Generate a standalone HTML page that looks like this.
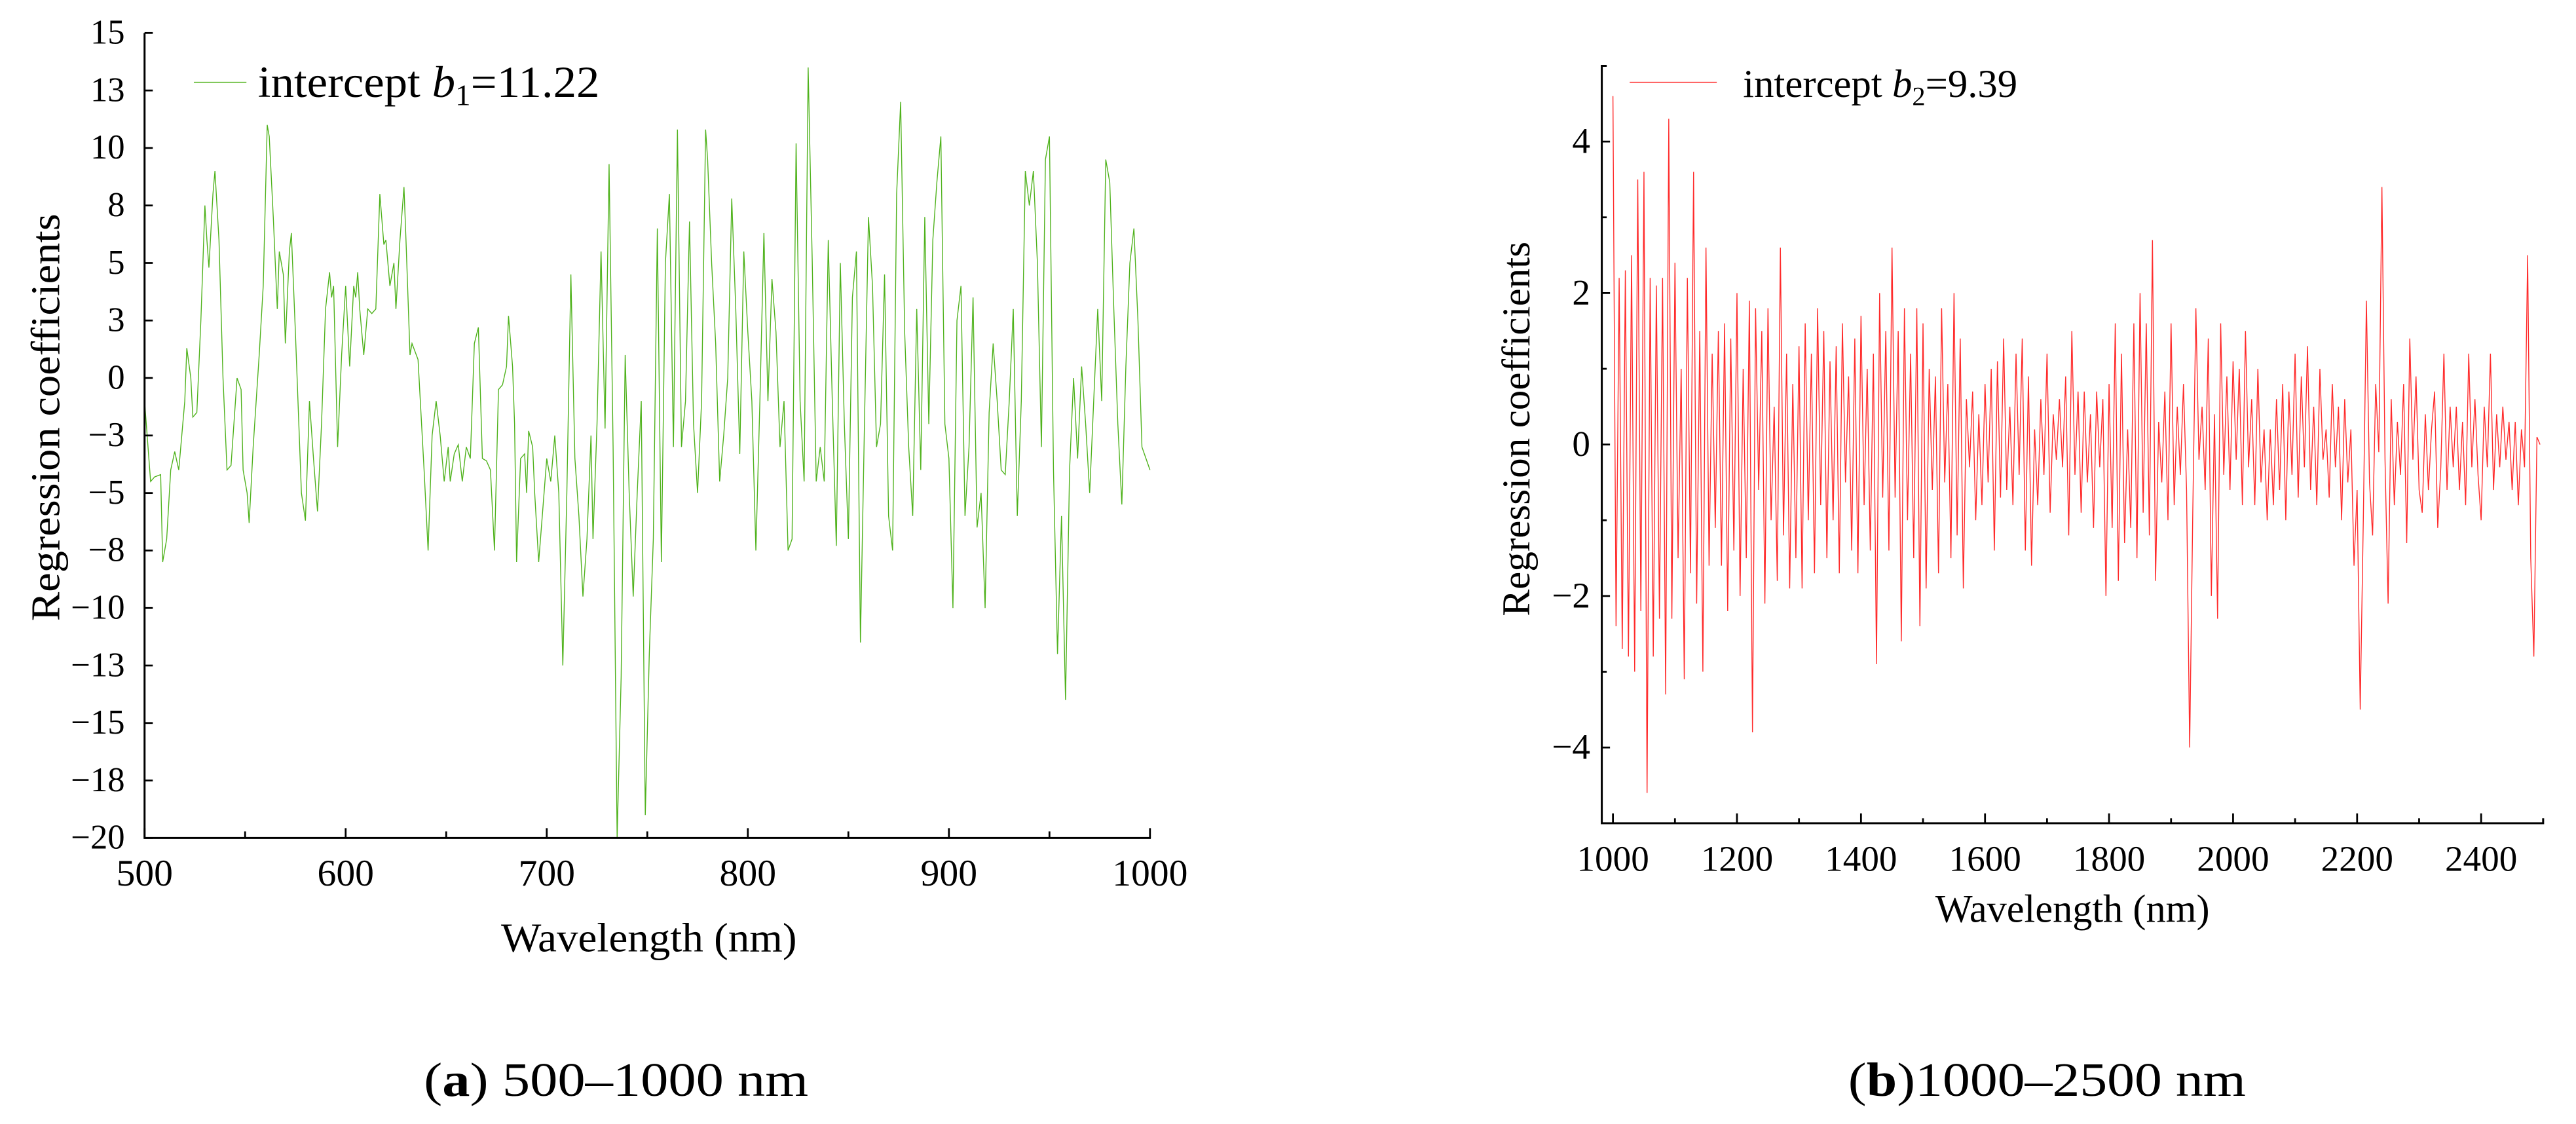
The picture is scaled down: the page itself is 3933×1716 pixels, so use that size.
<!DOCTYPE html>
<html><head><meta charset="utf-8"><style>
html,body{margin:0;padding:0;background:#fff;}
svg{display:block;}
svg text{font-family:"Liberation Serif","Times New Roman",serif;fill:#000;}
</style></head><body>
<svg id="fig" width="3933" height="1716" viewBox="0 0 1568 684" xmlns="http://www.w3.org/2000/svg" font-family="'Liberation Serif', 'Times New Roman', serif">
<g id="chartA"></g>
<g id="chartB"></g>
<text x="258" y="667" font-size="29" textLength="234" lengthAdjust="spacingAndGlyphs">(<tspan font-weight="bold">a</tspan>) 500–1000 nm</text>
<text x="1125" y="667" font-size="29" textLength="242" lengthAdjust="spacingAndGlyphs">(<tspan font-weight="bold">b</tspan>)1000–2500 nm</text>
</svg>
<script>
const NS="http://www.w3.org/2000/svg";
// ---- Chart A data ----
const aWave=[500,503,505,508,509,511,513,515,517,520,521,523,524,526,528,530,531,532,534,535,537,539,541,543,546,548,549,551,552,554,557,559,561,562,564,566,567,569,570,572,573,575,578,580,582,584,586,588,590,592,593,594,596,598,600,602,604,605,606,607,609,611,613,615,617,619,620,622,624,625,627,629,630,632,633,636,639,641,643,645,647,649,651,652,654,656,658,660,662,664,666,668,670,672,674,676,678,680,681,683,684,685,687,689,690,691,693,694,696,
700,702,704,706,708,710,712,714,716,718,720,722,723,725,727,729,731,733,735,737,739,741,743,745,747,749,751,753,755,757,759,761,763,765,767,769,771,773,775,777,779,780,782,784,786,788,790,792,794,796,798,800,802,804,806,808,810,812,814,816,818,820,822,824,826,828,830,832,834,836,838,840,842,844,846,848,850,852,854,856,858,860,862,864,866,868,870,872,874,876,878,880,882,884,886,888,890,892,894,896,898,900,902,904,906,908,910,912,914,916,918,920,922,924,926,928,930,932,934,936,938,940,942,944,946,948,950,952,954,956,958,960,962,964,966,968,970,972,974,976,978,980,982,984,986,988,990,992,994,996,998,1000];
const aCoef=[-1,-4.5,-4.3,-4.2,-8,-7,-4,-3.2,-4,-1,1.3,0,-1.7,-1.5,2.5,7.5,6,4.8,8,9,6,0,-4,-3.8,0,-0.5,-4,-5,-6.3,-3,1,4,11,10.5,7,3,5.5,4.5,1.5,5.5,6.3,2,-5,-6.2,-1,-3.5,-5.8,-2,3,4.6,3.5,4,-3,1,4,0.5,4,3.5,4.6,3,1,3,2.8,3,8,5.8,6,4,5,3,6,8.3,6,1,1.5,0.8,-4,-7.5,-2.5,-1,-2.5,-4.5,-3,-4.5,-3.3,-2.9,-4.5,-3,-3.5,1.5,2.2,-3.5,-3.6,-4,-7.5,-0.5,-0.3,0.5,2.7,0.5,-2,-8,-3.5,-3.3,-5,-2.3,-3,-5,-8,
-3.5,-4.5,-2.5,-5,-12.5,-5,4.5,-3.5,-6,-9.5,-7,-2.5,-7,-2,5.5,-2.2,9.3,-3,-20,-13,1,-5,-9.5,-5,-1,-19,-12,-7,6.5,-8,5,8,-3,10.8,-3,-1,6.8,-2,-5,-1,10.8,9.5,5,1.5,-4.5,-2.5,0,7.8,3,-3.3,5.5,2,-1,-7.5,-1,6.3,-1,4.3,2,-3,-1,-7.5,-7,10.2,-1,-4.5,13.5,5.2,-4.5,-3,-4.5,6,-1,-7.3,5,-2,-7,3.5,5.5,-11.5,-2,7,4,-3,-2,4.5,-6,-7.5,8,12,2,-3,-6,3,-4,7,-2,6,8.5,10.5,-2,-3.5,-10,2.5,4,-6,-3,3.5,-6.5,-5,-10,-1.5,1.5,-1,-4,-4.2,-1,3,-6,-1,9,7.5,9,5,-3,9.5,10.5,-4,-12,-6,-14,-4,0,-3.5,0.5,-2,-5,-1,3,-1,9.5,8.5,3,-2,-5.5,0.5,5,6.5,2.5,-3,-3.5,-4];
const aYTickVals=[-20,-17.5,-15,-12.5,-10,-7.5,-5,-2.5,0,2.5,5,7.5,10,12.5,15];
const aYTickLabels=["−20","−18","−15","−13","−10","−8","−5","−3","0","3","5","8","10","13","15"];
const aXTicks=[500,600,700,800,900,1000];
// ---- Chart B data ----
const bStart=1000, bStep=5;
const bCoef=[4.6,-2.4,2.2,-2.7,2.3,-2.8,2.5,-3,3.5,-2.2,
3.6,-4.6,2.2,-2.8,2.1,-2.3,2.2,-3.3,4.3,-2.3,
2.4,-1.5,1,-3.1,2.2,-1.7,3.6,-2.1,1.5,-3,
2.6,-1.6,1.2,-1.1,1.5,-1.6,1.6,-2.2,1.4,-1.4,
2,-2,1,-1.5,1.9,-3.8,1.8,-0.6,1.5,-2.1,
1.8,-1,0.5,-1.8,2.6,-1.2,1.2,-1.9,0.8,-1.5,
1.3,-1.9,1.6,-1,1.2,-1.7,1.8,-0.8,1.5,-1.5,
1.1,-1,1.3,-1.7,1.6,-0.5,0.9,-1.4,1.4,-1.7,
1.7,-0.8,1,-1.4,1.2,-2.9,2,-0.7,1.5,-1.4,
2.6,-0.7,1.5,-2.6,1.8,-1,1.2,-1.5,1.8,-2.4,
1.6,-1.9,1,-0.6,0.9,-1.7,1.8,-0.5,0.8,-1.5,
2,-1.2,1.4,-1.9,0.6,-0.3,0.7,-1,0.4,-0.8,
0.8,-0.5,1,-1.4,1.1,-0.7,1.4,-0.6,0.5,-0.8,
1.2,-0.4,1.4,-1.4,0.9,-1.6,0.2,-0.8,0.6,-0.4,
1.2,-0.9,0.4,-0.2,0.6,-0.3,0.9,-1.2,1.5,-0.4,
0.7,-0.9,0.7,-0.5,0.4,-1.1,0.7,-0.3,0.6,-2,
0.8,-1.1,1.6,-1.8,1.2,-1.3,0.2,-1.1,1.6,-1.5,
2,-0.9,1.6,-1.2,2.7,-1.8,0.3,-0.5,0.7,-1,
1.6,-0.8,0.5,-0.4,0.8,-0.6,-4,-0.9,1.8,-0.2,
0.5,-0.6,1.4,-2,0.4,-2.3,1.6,-0.4,0.9,-0.6,
1.1,-0.2,1,-0.8,1.5,-0.3,0.6,-0.8,1,-0.5,
0.2,-1,0.2,-0.8,0.6,-0.6,0.8,-1,0.7,-0.4,
1.2,-0.7,0.9,-0.3,1.3,-0.6,0.5,-0.8,1,-0.2,
0.2,-0.7,0.8,-0.3,0.5,-1,0.6,-0.5,0.2,-1.6,
-0.6,-3.5,-1,1.9,-0.5,-1.2,0.8,-0.1,3.4,-0.2,
-2.1,0.6,-0.8,0.3,-0.4,0.8,-1.3,1.4,-0.2,0.9,
-0.6,-0.9,0.4,-0.6,0.2,0.7,-1.1,-0.3,1.2,-0.6,
0.5,-0.3,0.5,-0.6,0.3,-0.8,1.2,-0.3,0.6,-0.4,
-1,0.5,-0.3,1.2,-0.6,0.4,-0.3,0.5,-0.2,0.3,
-0.6,0.3,-0.8,0.2,-0.3,2.5,-1.5,-2.8,0.1,0];
const bYTicks=[-4,-2,0,2,4];
const bYTickLabels=["−4","−2","0","2","4"];
const bXTicks=[1000,1200,1400,1600,1800,2000,2200,2400];

function mk(tag,attrs,parent){const e=document.createElementNS(NS,tag);for(const k in attrs)e.setAttribute(k,attrs[k]);parent.appendChild(e);return e;}

// ---- Chart A ----
(function(){
const g=document.getElementById('chartA');
const L=88,R=700,T=20,B=510,xmin=500,xmax=1000,ymin=-20,ymax=15;
const sx=v=>L+(v-xmin)/(xmax-xmin)*(R-L), sy=v=>B-(v-ymin)/(ymax-ymin)*(B-T);
let d=aWave.map((w,i)=>(i?'L':'M')+sx(w).toFixed(2)+' '+sy(aCoef[i]).toFixed(2)).join('');
const p=mk('path',{d:d,fill:'none',stroke:'#4fb21c','stroke-width':0.55},g);


const ax=mk('path',{d:`M${L} ${T}V${B}H${R+0.5}`,fill:'none',stroke:'#000','stroke-width':1.2},g);


aYTickVals.forEach((v,i)=>{
 mk('line',{x1:L,x2:L+5,y1:sy(v),y2:sy(v),stroke:'#000','stroke-width':1.1},g);
 const t=mk('text',{x:L-12,y:sy(v)+6.5,'font-size':21,'text-anchor':'end'},g);
 t.textContent=aYTickLabels[i];
 
 
});
for(let w=550;w<1000;w+=100){mk('line',{x1:sx(w),x2:sx(w),y1:B,y2:B-4,stroke:'#000','stroke-width':1.1},g);}
aXTicks.forEach(w=>{
 mk('line',{x1:sx(w),x2:sx(w),y1:B,y2:B-6,stroke:'#000','stroke-width':1.1},g);
 const t=mk('text',{x:sx(w),y:539,'font-size':23,'text-anchor':'middle'},g);
 t.textContent=w;
 
 
});
const xt=mk('text',{x:305,y:579,'font-size':25,textLength:180,lengthAdjust:'spacingAndGlyphs'},g);xt.textContent='Wavelength (nm)';


const yt=mk('text',{x:0,y:0,'font-size':25,transform:'translate(36,378) rotate(-90)',textLength:248,lengthAdjust:'spacingAndGlyphs'},g);yt.textContent='Regression coefficients';


const ll=mk('line',{x1:118,x2:150,y1:50,y2:50,stroke:'#4fb21c','stroke-width':0.6},g);


const lt=mk('text',{x:157,y:59,'font-size':27,textLength:208,lengthAdjust:'spacingAndGlyphs'},g);
lt.innerHTML='intercept <tspan font-style="italic">b</tspan><tspan font-size="18" dy="5">1</tspan><tspan dy="-5">=11.22</tspan>';


})();

// ---- Chart B ----
(function(){
const g=document.getElementById('chartB');
const L=975,R=1548,T=40,B=501,xmin=982,xmax=2500,ymin=-5,ymax=5;
const sx=v=>L+(v-xmin)/(xmax-xmin)*(R-L), sy=v=>B-(v-ymin)/(ymax-ymin)*(B-T);
let d=bCoef.map((v,i)=>(i?'L':'M')+sx(bStart+i*bStep).toFixed(2)+' '+sy(v).toFixed(2)).join('');
const p=mk('path',{d:d,fill:'none',stroke:'#ff2a2a','stroke-width':0.55},g);


const ax=mk('path',{d:`M${L+3} ${T}H${L}V${B}H${R}V${B-3}`,fill:'none',stroke:'#000','stroke-width':1.2},g);


for(let v=-3;v<=3;v+=2){mk('line',{x1:L,x2:L+3,y1:sy(v),y2:sy(v),stroke:'#000','stroke-width':1.1},g);}
bYTicks.forEach((v,i)=>{
 mk('line',{x1:L,x2:L+5,y1:sy(v),y2:sy(v),stroke:'#000','stroke-width':1.1},g);
 const t=mk('text',{x:L-7,y:sy(v)+7,'font-size':22,'text-anchor':'end'},g);
 t.textContent=bYTickLabels[i];
 
 
});
for(let w=1100;w<2500;w+=200){mk('line',{x1:sx(w),x2:sx(w),y1:B,y2:B-3,stroke:'#000','stroke-width':1.1},g);}
bXTicks.forEach(w=>{
 mk('line',{x1:sx(w),x2:sx(w),y1:B,y2:B-6,stroke:'#000','stroke-width':1.1},g);
 const t=mk('text',{x:sx(w),y:530,'font-size':22,'text-anchor':'middle'},g);
 t.textContent=w;
 
 
});
const xt=mk('text',{x:1178,y:561,'font-size':24,textLength:167,lengthAdjust:'spacingAndGlyphs'},g);xt.textContent='Wavelength (nm)';


const yt=mk('text',{x:0,y:0,'font-size':24,transform:'translate(931,375) rotate(-90)',textLength:228,lengthAdjust:'spacingAndGlyphs'},g);yt.textContent='Regression coefficients';


const ll=mk('line',{x1:992,x2:1045,y1:50,y2:50,stroke:'#ff2a2a','stroke-width':0.6},g);


const lt=mk('text',{x:1061,y:59,'font-size':24,textLength:167,lengthAdjust:'spacingAndGlyphs'},g);
lt.innerHTML='intercept <tspan font-style="italic">b</tspan><tspan font-size="16" dy="5">2</tspan><tspan dy="-5">=9.39</tspan>';


})();
</script>
</body></html>
